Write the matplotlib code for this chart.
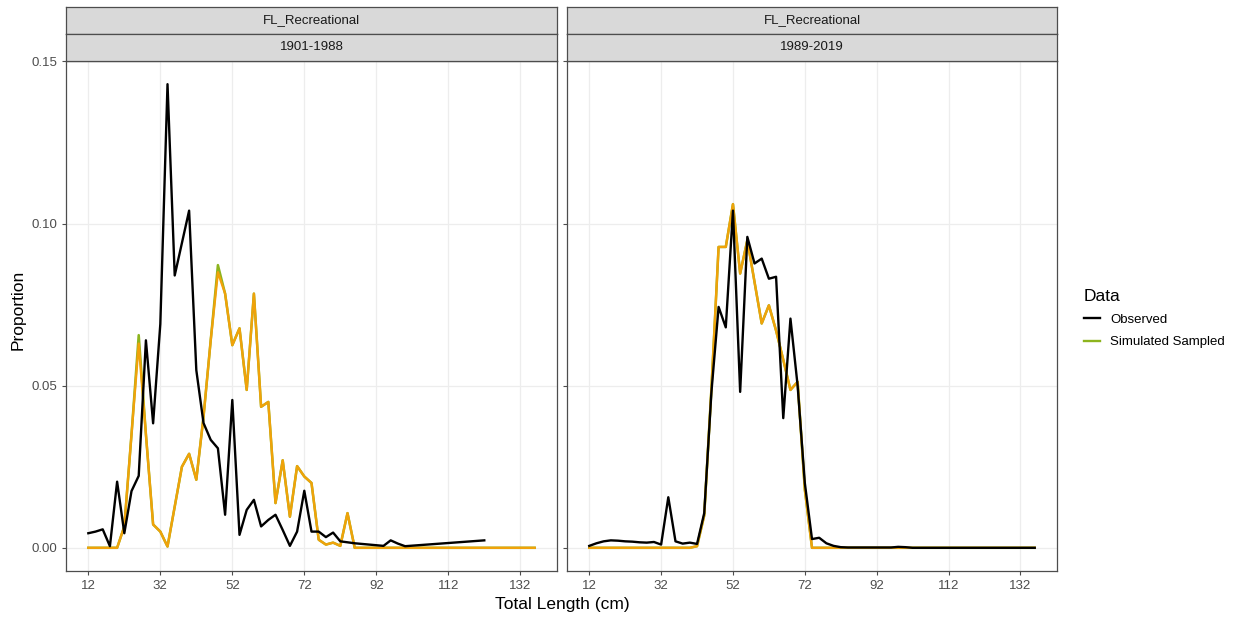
import numpy as np
import matplotlib
matplotlib.use("Agg")
import matplotlib.pyplot as plt
from matplotlib.lines import Line2D

plt.rcParams['font.family'] = ['Liberation Sans', 'DejaVu Sans']

# length bins (cm)
lengths = np.arange(12, 137, 2)

# 1901-1988 panel
obs_early_x = [12, 14, 16, 18, 20, 22, 24, 26, 28, 30, 32, 34, 36, 38, 40, 42, 44, 46, 48, 50,
               52, 54, 56, 58, 60, 62, 64, 66, 68, 70, 72, 74, 76, 78, 80, 82, 84, 86, 88, 90,
               92, 94, 96, 98, 100, 122]
obs_early = [0.0045, 0.005, 0.0057, 0.0005, 0.0204, 0.0045, 0.0175, 0.0222, 0.064, 0.0384,
             0.069, 0.143, 0.084, 0.094, 0.104, 0.0548, 0.0385, 0.0333, 0.0307, 0.0102,
             0.0456, 0.004, 0.0117, 0.0148, 0.0066, 0.0086, 0.0102, 0.0055, 0.0006, 0.005,
             0.0176, 0.005, 0.005, 0.0033, 0.0047, 0.002, 0.0017, 0.0014, 0.0012, 0.001,
             0.0008, 0.0006, 0.0023, 0.0013, 0.0005, 0.0023]
sim_early = [0.0, 0.0, 0.0, 0.0, 0.0, 0.0066, 0.035, 0.063, 0.035, 0.0072, 0.005, 0.0004,
             0.0127, 0.025, 0.029, 0.021, 0.0404, 0.064, 0.085, 0.0784, 0.0625, 0.0677,
             0.0487, 0.0784, 0.0435, 0.045, 0.0138, 0.027, 0.0096, 0.0252, 0.022, 0.02,
             0.0025, 0.001, 0.0016, 0.0006, 0.0107] + [0.0] * 26
simg_early = [0.0, 0.0, 0.0, 0.0, 0.0, 0.0066, 0.035, 0.0656, 0.035, 0.0072, 0.005, 0.0004,
              0.0127, 0.025, 0.029, 0.021, 0.0404, 0.064, 0.0872, 0.0784, 0.0625, 0.0677,
              0.0487, 0.0784, 0.0435, 0.045, 0.0138, 0.027, 0.0096, 0.0252, 0.022, 0.02,
              0.0025, 0.001, 0.0016, 0.0006, 0.0107] + [0.0] * 26

# 1989-2019 panel
obs_late = [0.0006, 0.0014, 0.002, 0.0023, 0.0022, 0.002, 0.0019, 0.0017, 0.0016, 0.0018,
            0.001, 0.0156, 0.002, 0.0013, 0.0016, 0.0012, 0.0107, 0.048, 0.0743, 0.068,
            0.104, 0.0481, 0.0959, 0.0877, 0.0892, 0.083, 0.0836, 0.04, 0.0707, 0.05,
            0.02, 0.0027, 0.0031, 0.0014, 0.0006, 0.0002, 0.0001, 0.0001, 0.0001, 0.0001,
            0.0001, 0.0001, 0.0001, 0.0003, 0.0002] + [0.0] * 18
sim_late = [0.0] * 15 + [0.0005, 0.01, 0.049, 0.0928, 0.0928, 0.106, 0.0846, 0.0949, 0.082,
                         0.0692, 0.0748, 0.067, 0.058, 0.0487, 0.0512, 0.018] + [0.0] * 32

fleet = "FL_Recreational"
periods = ["1901-1988", "1989-2019"]

OBS_COL = "black"
SIM_COL = "#F0A20A"
GREEN = "#8DB41E"
W, H = 1247, 619

fig = plt.figure(figsize=(W / 100, H / 100), dpi=100)

panels = [(66, 557), (567, 1057)]
top_px, bot_px = 61, 571

series = [(obs_early_x, obs_early, simg_early, sim_early),
          (lengths, obs_late, sim_late, sim_late)]

for k, ((x0, x1), per) in enumerate(zip(panels, periods)):
    ax = fig.add_axes([x0 / W, (H - bot_px) / H, (x1 - x0) / W, (bot_px - top_px) / H])
    ox, oy, gy, sy = series[k]
    ax.plot(lengths, gy, color=GREEN, lw=1.8, zorder=2)
    ax.plot(lengths, sy, color=SIM_COL, lw=1.7, zorder=3)
    ax.plot(ox, oy, color=OBS_COL, lw=1.7, zorder=4)
    ax.set_xlim(5.8, 142.2)
    ax.set_ylim(-0.00715, 0.15015)
    ax.set_xticks(np.arange(12, 133, 20))
    ax.set_yticks([0.0, 0.05, 0.10, 0.15])
    ax.set_yticklabels(["0.00", "0.05", "0.10", "0.15"])
    ax.grid(True, color="#EDEDED", lw=0.9, zorder=0)
    ax.set_axisbelow(True)
    for s in ax.spines.values():
        s.set_color("#4D4D4D")
        s.set_linewidth(0.9)
    ax.tick_params(colors="#4D4D4D", labelcolor="#4D4D4D", labelsize=9.5, length=3, width=0.8)
    if k == 1:
        ax.tick_params(labelleft=False)

    # facet strips
    for ytop, ybot, txt in [(7, 34, fleet), (34, 61, per)]:
        sax = fig.add_axes([x0 / W, (H - ybot) / H, (x1 - x0) / W, (ybot - ytop) / H])
        sax.set_facecolor("#D9D9D9")
        sax.set_xticks([])
        sax.set_yticks([])
        for s in sax.spines.values():
            s.set_color("#4D4D4D")
            s.set_linewidth(0.9)
        sax.text(0.5, 0.5, txt, ha="center", va="center", fontsize=9.5, color="#1A1A1A",
                 transform=sax.transAxes)

fig.text(562 / W, 1 - 605 / H, "Total Length (cm)", ha="center", va="center", fontsize=12.5)
fig.text(18 / W, 1 - 310 / H, "Proportion", ha="center", va="center", fontsize=12.5, rotation=90)

handles = [Line2D([], [], color=OBS_COL, lw=1.7),
           Line2D([], [], color=GREEN, lw=1.7)]
leg = fig.legend(handles, ["Observed", "Simulated Sampled"], title="Data",
                 loc="upper left", bbox_to_anchor=(1072 / W, 1 - 277 / H),
                 frameon=False, fontsize=9.5, title_fontsize=12.5, handlelength=1.2,
                 handletextpad=0.8, labelspacing=0.75)
leg._legend_box.align = "left"

fig.savefig("out.png", dpi=100)
